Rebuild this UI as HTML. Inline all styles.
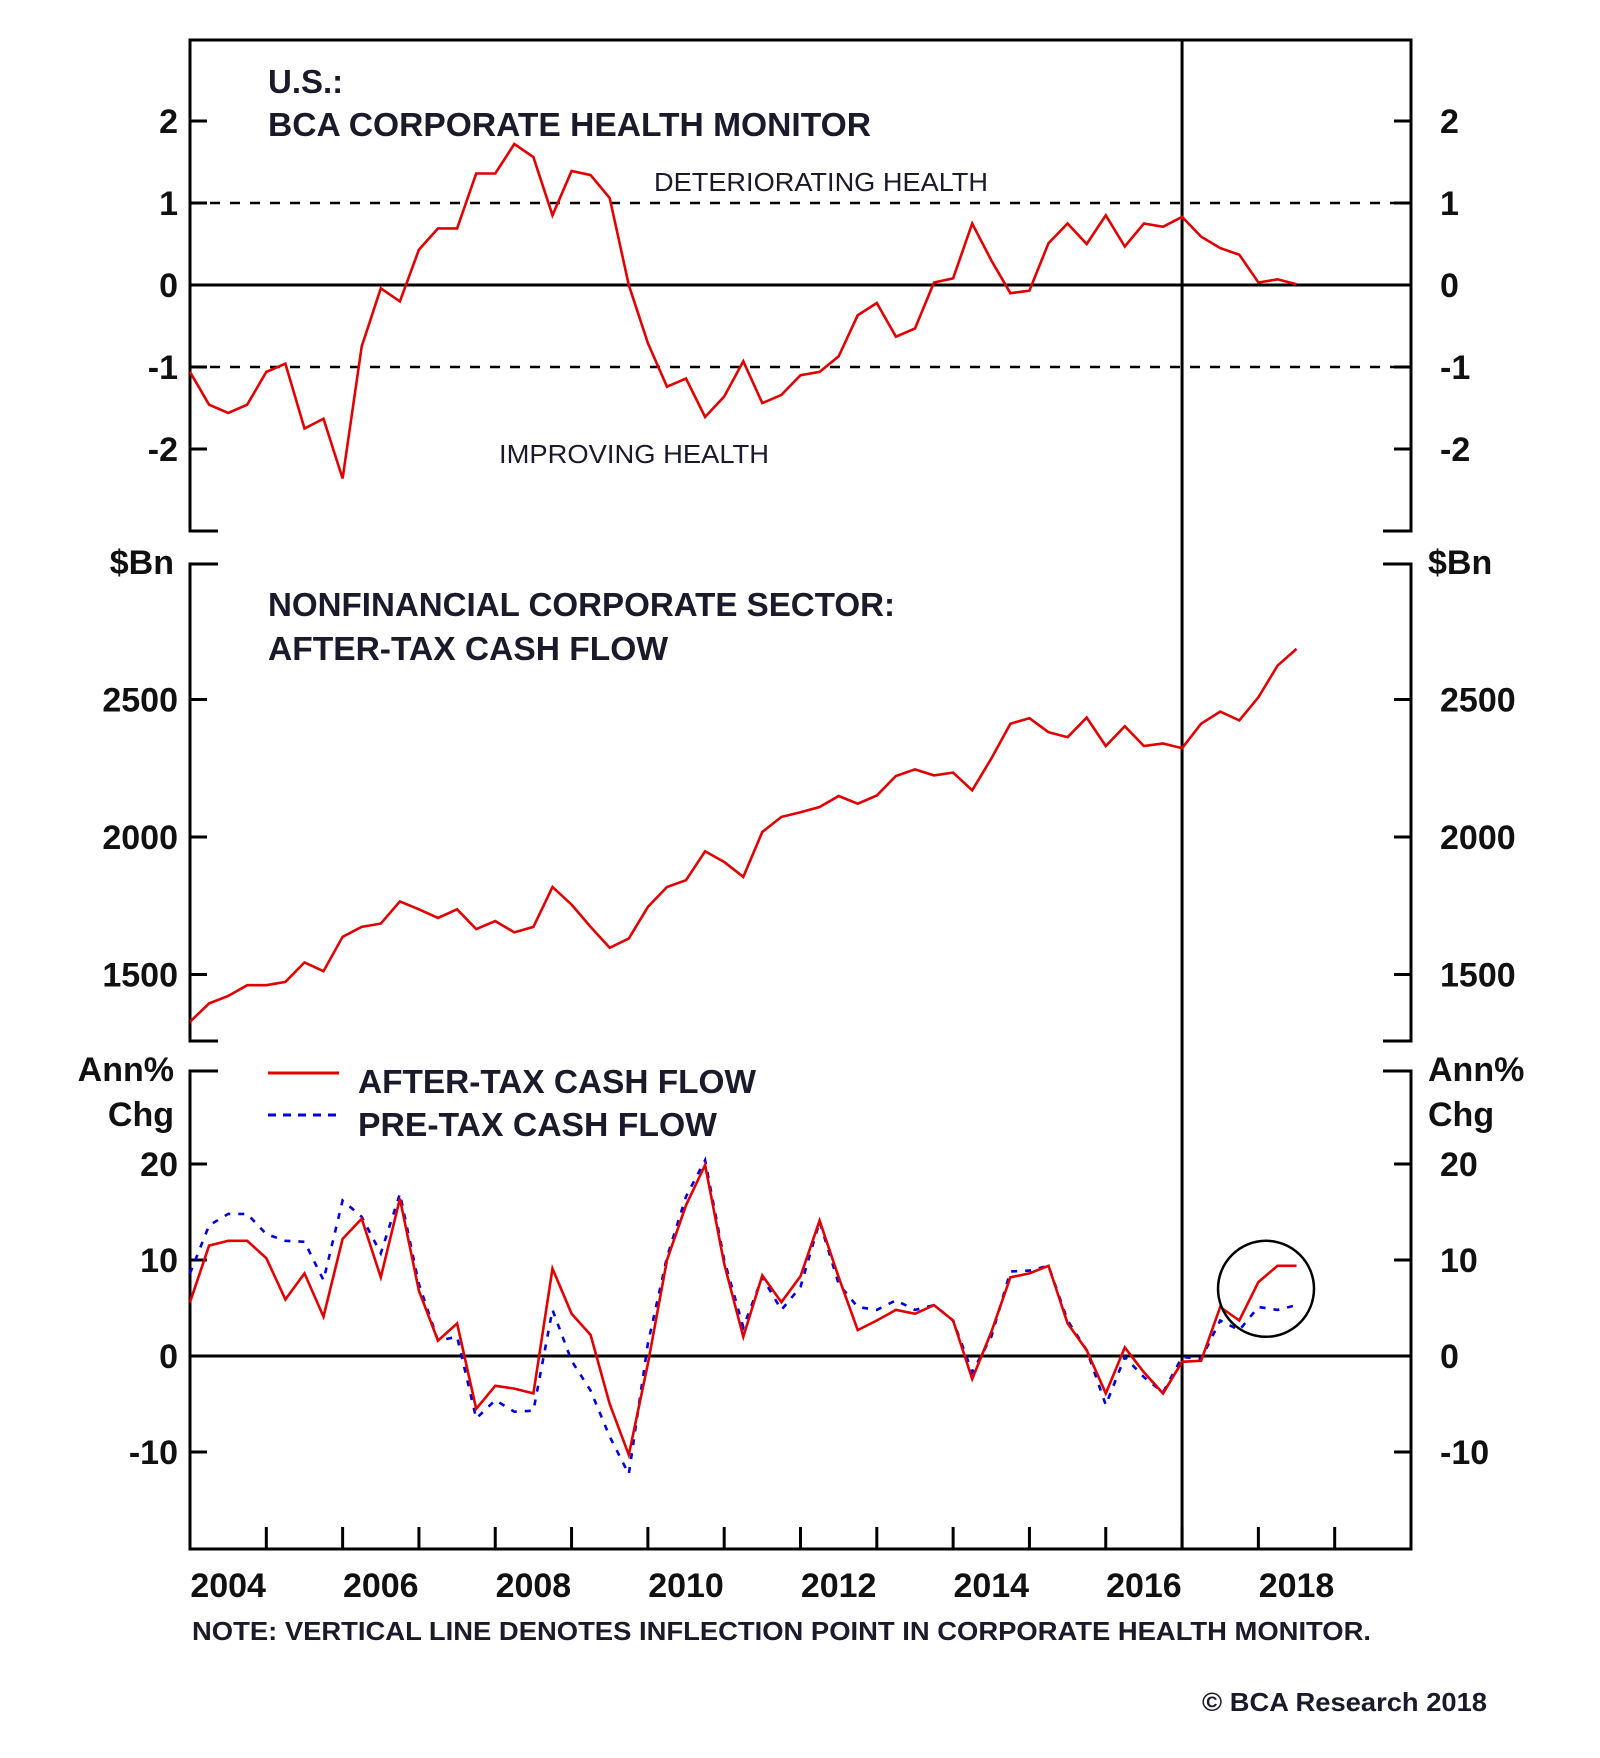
<!DOCTYPE html>
<html><head><meta charset="utf-8"><style>
html,body{margin:0;padding:0;background:#fff;}
svg{display:block;font-family:"Liberation Sans",Arial,sans-serif;}
.lbl{font-weight:bold;font-size:34px;fill:#111;}
.ttl{font-weight:bold;font-size:33px;fill:#1a1a2a;}
.ann{font-size:26px;fill:#1a1a2a;}
</style></head><body>
<svg id="chart" width="1600" height="1758" viewBox="0 0 1600 1758" xmlns="http://www.w3.org/2000/svg">
<g id="frame"></g>
<g id="marks"></g>
<g id="texts">
  <text class="ttl" x="268" y="93">U.S.:</text>
  <text class="ttl" x="268" y="136" textLength="603" lengthAdjust="spacingAndGlyphs">BCA CORPORATE HEALTH MONITOR</text>
  <text class="ann" x="654" y="191" textLength="334" lengthAdjust="spacingAndGlyphs">DETERIORATING HEALTH</text>
  <text class="ann" x="499" y="463" textLength="270" lengthAdjust="spacingAndGlyphs">IMPROVING HEALTH</text>
  <text class="lbl" x="174" y="574" text-anchor="end">$Bn</text>
  <text class="lbl" x="1428" y="574">$Bn</text>
  <text class="ttl" x="268" y="616" textLength="627" lengthAdjust="spacingAndGlyphs">NONFINANCIAL CORPORATE SECTOR:</text>
  <text class="ttl" x="268" y="660" textLength="400" lengthAdjust="spacingAndGlyphs">AFTER-TAX CASH FLOW</text>
  <text class="lbl" x="174" y="1081" text-anchor="end">Ann%</text>
  <text class="lbl" x="174" y="1126" text-anchor="end">Chg</text>
  <text class="lbl" x="1428" y="1081">Ann%</text>
  <text class="lbl" x="1428" y="1126">Chg</text>
  <line x1="268" y1="1073" x2="339" y2="1073" stroke="#e00000" stroke-width="3"/>
  <text class="ttl" x="358" y="1093" textLength="398" lengthAdjust="spacingAndGlyphs">AFTER-TAX CASH FLOW</text>
  <line x1="268" y1="1115" x2="339" y2="1115" stroke="#0000dd" stroke-width="3" stroke-dasharray="8,7"/>
  <text class="ttl" x="358" y="1136" textLength="359" lengthAdjust="spacingAndGlyphs">PRE-TAX CASH FLOW</text>
  <text x="192" y="1640" font-weight="bold" font-size="26" fill="#1a1a2a" textLength="1179" lengthAdjust="spacingAndGlyphs">NOTE: VERTICAL LINE DENOTES INFLECTION POINT IN CORPORATE HEALTH MONITOR.</text>
  <text x="1202" y="1711" font-weight="bold" font-size="26" fill="#1a1a2a" textLength="285" lengthAdjust="spacingAndGlyphs">© BCA Research 2018</text>
</g>
</svg>
<script>
// ---- data (quarterly, starting 2004 Q1) ----
const startYear = 2004;
const quarterStep = 0.25;
const healthMonitor = [-1.06,-1.46,-1.56,-1.46,-1.06,-0.96,-1.75,-1.63,-2.36,-0.75,-0.04,-0.20,0.43,0.69,0.69,1.36,1.36,1.72,1.56,0.85,1.39,1.34,1.06,0.00,-0.71,-1.24,-1.14,-1.61,-1.36,-0.93,-1.44,-1.34,-1.10,-1.06,-0.87,-0.37,-0.22,-0.63,-0.53,0.03,0.08,0.75,0.30,-0.10,-0.07,0.51,0.75,0.50,0.85,0.47,0.75,0.71,0.83,0.59,0.45,0.37,0.03,0.07,0.01];
const cashFlow = [1328,1395,1422,1461,1461,1473,1544,1512,1637,1673,1685,1766,1737,1706,1737,1665,1694,1653,1673,1818,1754,1673,1597,1631,1746,1818,1843,1948,1909,1855,2018,2073,2090,2109,2149,2121,2151,2222,2246,2224,2234,2170,2285,2412,2432,2381,2363,2434,2331,2403,2331,2340,2323,2412,2456,2424,2508,2623,2684];
const afterTaxChg = [5.6,11.5,12.0,12.0,10.2,5.9,8.6,4.1,12.2,14.3,8.2,16.4,6.8,1.6,3.4,-5.5,-3.1,-3.4,-3.9,9.1,4.4,2.2,-5.0,-10.3,-0.8,10.0,15.7,19.9,9.6,2.0,8.4,5.6,8.3,14.1,8.2,2.7,3.7,4.8,4.4,5.3,3.7,-2.4,2.5,8.2,8.6,9.4,3.4,0.6,-3.9,0.9,-1.7,-3.9,-0.6,-0.5,5.1,3.7,7.7,9.4,9.4];
const preTaxChg = [8.6,13.6,14.8,14.8,12.7,12.0,11.9,7.9,16.2,14.5,10.7,16.9,7.5,1.6,2.0,-6.5,-4.6,-5.8,-5.7,4.8,-0.5,-3.6,-8.4,-12.3,1.3,10.3,16.6,20.4,10.0,3.0,8.2,4.8,7.2,14.0,7.5,5.1,4.8,5.8,4.8,5.3,3.7,-1.7,2.0,8.8,8.9,9.4,3.7,0.6,-5.1,-0.1,-2.2,-3.8,-0.1,-0.3,3.7,2.7,5.1,4.8,5.3];
const topTicks = [2,1,0,-1,-2];
const midTicks = [2500,2000,1500];
const botTicks = [20,10,0,-10];
const yearLabels = [2004,2006,2008,2010,2012,2014,2016,2018];
const inflectionYear = 2017;
const circleYear = 2018.1;
const circleValue = 7.0;

// ---- axes ----
const X0 = 190, X1 = 1411, XMIN = 2004, XMAX = 2020;
const xs = t => X0 + (t - XMIN) * (X1 - X0) / (XMAX - XMIN);
const yTop = v => 285 - v * 82;
const yMid = v => 837 - (v - 2000) * 0.275;
const yBot = v => 1356 - v * 9.6;
const P = {top:[40,531], mid:[564,1041], bot:[1071,1549]};
const NS = 'http://www.w3.org/2000/svg';
const frame = document.getElementById('frame');
const marks = document.getElementById('marks');
function mk(tag, attrs, parent){const e=document.createElementNS(NS,tag);for(const k in attrs)e.setAttribute(k,attrs[k]);parent.appendChild(e);return e;}
function line(x1,y1,x2,y2,sw,parent,extra){return mk('line',Object.assign({x1,y1,x2,y2,stroke:'#000','stroke-width':sw},extra||{}),parent);}

[['top',P.top],['mid',P.mid],['bot',P.bot]].forEach(([n,r])=>{
  let e;
  e=line(X0,r[0],X0,r[1],3,frame);
  
  
  e=line(X1,r[0],X1,r[1],3,frame);
  
  
  if(n!=='top'){line(X0-1.5,r[0],X0+28,r[0],3,frame);line(X1-28,r[0],X1+1.5,r[0],3,frame);}
  if(n!=='bot'){line(X0-1.5,r[1],X0+28,r[1],3,frame);line(X1-28,r[1],X1+1.5,r[1],3,frame);}
});
let e0=line(X0-1.5,P.top[0],X1+1.5,P.top[0],3,frame);


e0=line(X0-1.5,P.bot[1],X1+1.5,P.bot[1],3,frame);



function yTicks(ticks, sc, name){
  ticks.forEach(v=>{
    const y=sc(v);
    line(X0,y,X0+17,y,3,frame);
    line(X1-17,y,X1,y,3,frame);
    let t=mk('text',{x:178,y:y+12,'text-anchor':'end',class:'lbl'},frame);
    t.textContent=v;
    
    
    t=mk('text',{x:1440,y:y+12,class:'lbl'},frame);
    t.textContent=v;
    
    
  });
}
yTicks(topTicks,yTop,'top');
yTicks(midTicks,yMid,'mid');
yTicks(botTicks,yBot,'bot');

for(let yr=XMIN+1; yr<XMAX; yr++){ line(xs(yr),P.bot[1],xs(yr),P.bot[1]-22,3,frame); }
yearLabels.forEach(yr=>{
  const t=mk('text',{x:xs(yr+0.5),y:1597,'text-anchor':'middle',class:'lbl'},frame);
  t.textContent=yr;
  
  
});

let r;
r=line(X0,yTop(1),X1,yTop(1),2.5,frame,{'stroke-dasharray':'10,10'});


r=line(X0,yTop(-1),X1,yTop(-1),2.5,frame,{'stroke-dasharray':'10,10'});


r=line(X0,yTop(0),X1,yTop(0),3,frame);


r=line(X0,yBot(0),X1,yBot(0),3,frame);


r=line(xs(inflectionYear),P.top[0],xs(inflectionYear),P.bot[1],3,frame);



function path(vals, sc, color, dash, name){
  const d=vals.map((v,i)=>(i?'L':'M')+xs(startYear+i*quarterStep).toFixed(1)+','+sc(v).toFixed(1)).join(' ');
  const p=mk('path',{d,fill:'none',stroke:color,'stroke-width':2.6,'stroke-linejoin':'miter'},marks);
  if(dash)p.setAttribute('stroke-dasharray',dash);
  
  
}
path(healthMonitor,yTop,'#e00000',null,'health-monitor-line');
path(cashFlow,yMid,'#e00000',null,'after-tax-cash-flow-line');
path(preTaxChg,yBot,'#0000dd','6,8','pre-tax-change-line');
path(afterTaxChg,yBot,'#e00000',null,'after-tax-change-line');

const c=mk('circle',{cx:xs(circleYear),cy:yBot(circleValue),r:48,fill:'none',stroke:'#000','stroke-width':2.5},marks);


</script>
</body></html>
